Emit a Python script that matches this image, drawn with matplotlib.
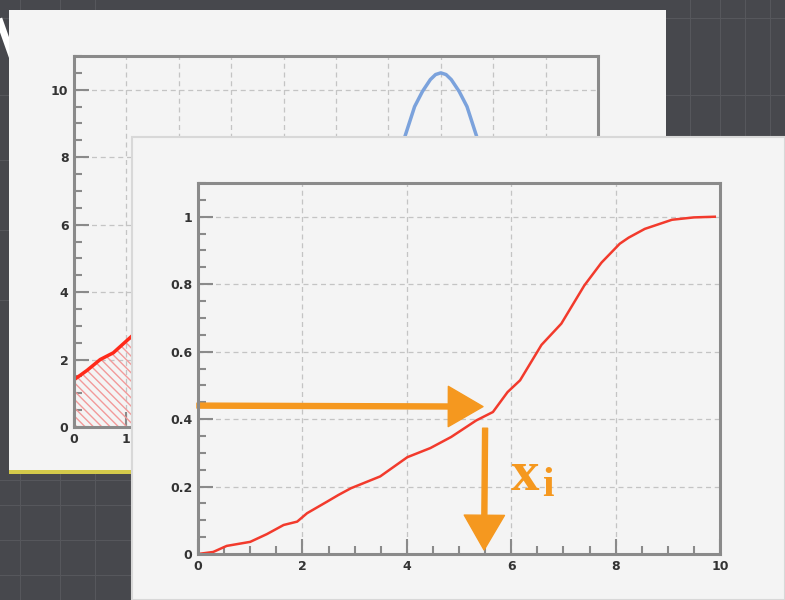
import matplotlib
matplotlib.use("Agg")
import matplotlib.pyplot as plt
from matplotlib.patches import Rectangle, FancyArrowPatch, ArrowStyle
from matplotlib.lines import Line2D
from matplotlib.ticker import MultipleLocator

# back chart: pdf with hatched part and a peak
pdf_x = [0, 0.25, 0.5, 0.75, 1.0, 1.25, 1.5]
pdf_y = [1.4, 1.68, 2.0, 2.2, 2.55, 2.9, 3.2]
peak_x = [5.5, 6.0, 6.25, 6.5, 6.65, 6.8, 6.9, 7.0, 7.1, 7.2, 7.35, 7.5, 7.75, 8.0, 8.5]
peak_y = [4.1, 6.9, 8.3, 9.5, 9.95, 10.3, 10.45, 10.5, 10.45, 10.3, 9.95, 9.5, 8.3, 6.9, 4.1]

# front chart: cumulative distribution
cdf_x = [0, 0.29, 0.55, 1.0, 1.32, 1.64, 1.9, 2.09, 2.47, 2.69, 2.93, 3.49, 4.01,
         4.45, 4.85, 5.33, 5.65, 5.93, 6.17, 6.58, 6.96, 7.4, 7.73, 8.08, 8.25,
         8.56, 9.08, 9.5, 9.9]
cdf_y = [0, 0.006, 0.024, 0.036, 0.059, 0.086, 0.096, 0.121, 0.155, 0.175, 0.195,
         0.23, 0.287, 0.314, 0.347, 0.396, 0.421, 0.48, 0.515, 0.62, 0.683, 0.796,
         0.864, 0.92, 0.938, 0.964, 0.991, 0.998, 1.0]

back_xticks = list(range(0, 11))
back_yticks = [0, 2, 4, 6, 8, 10]
front_xticks = [0, 2, 4, 6, 8, 10]
front_xlabels = ["0", "2", "4", "6", "8", "10"]
front_yticks = [0, 0.2, 0.4, 0.6, 0.8, 1.0]
front_ylabels = ["0", "0.2", "0.4", "0.6", "0.8", "1"]

# random number u read on the y axis, mapped to x_i
u_value = 0.44
x_i = 5.48

W, H = 785, 600
BG = "#47484d"
PANEL = "#f4f4f4"
ORANGE = "#f5981f"
GRIDC = "#c4c4c4"
FRAME = "#8a8a8a"


def rect(l, t, r, b):
    return [l / W, 1 - b / H, (r - l) / W, (b - t) / H]


def style(ax):
    ax.set_facecolor(PANEL)
    for s in ax.spines.values():
        s.set_color(FRAME)
        s.set_linewidth(2.2)
    ax.tick_params(which="both", direction="in", color=FRAME, width=1.5,
                   top=False, right=False, labelsize=9, labelcolor="#333333", pad=4)
    ax.tick_params(which="major", length=11)
    ax.tick_params(which="minor", length=6)
    for lab in ax.get_xticklabels() + ax.get_yticklabels():
        lab.set_fontweight("bold")
    ax.grid(True, which="major", linestyle=(0, (4, 3)), color=GRIDC, lw=0.9)
    ax.set_axisbelow(True)


plt.rcParams["hatch.linewidth"] = 1.0
fig = plt.figure(figsize=(W / 100, H / 100), dpi=100)
fig.patch.set_facecolor(BG)

# faint linen texture of the slide background
for yy in [18, 95, 160, 230, 300, 480, 505, 540, 575]:
    fig.add_artist(Line2D([0, 1], [1 - yy / H] * 2, transform=fig.transFigure,
                          color="#56575c", lw=0.8, zorder=-6))
for xx in [20, 60, 95, 690, 720, 745, 770]:
    fig.add_artist(Line2D([xx / W] * 2, [0, 1], transform=fig.transFigure,
                          color="#56575c", lw=0.8, zorder=-6))

# white stroke of a background letter, top-left
fig.add_artist(Line2D([0, 12 / W], [1 - 22 / H, 1 - 56 / H], transform=fig.transFigure,
                      color="white", lw=5, zorder=-5))

# back panel
l, t, r, b = 9, 10, 666, 471
fig.add_artist(Rectangle((l / W, 1 - b / H), (r - l) / W, (b - t) / H,
                         transform=fig.transFigure, facecolor=PANEL, edgecolor="none", zorder=-4))
fig.add_artist(Rectangle((l / W, 1 - 474 / H), (r - l) / W, 4 / H,
                         transform=fig.transFigure, facecolor="#d3c94a", edgecolor="none", zorder=-4))

ax1 = fig.add_axes(rect(74, 56, 598, 427), zorder=-3)
ax1.set_xlim(0, 10)
ax1.set_ylim(0, 11)
ax1.set_xticks(back_xticks)
ax1.set_yticks(back_yticks)
ax1.yaxis.set_minor_locator(MultipleLocator(0.5))
style(ax1)
ax1.fill_between(pdf_x, 0, pdf_y, facecolor="none", edgecolor="#f29a9a",
                 hatch="\\\\\\\\", linewidth=0)
ax1.plot(pdf_x, pdf_y, color="#ff2a1a", lw=2.5)
ax1.plot(peak_x, peak_y, color="#7ba2dc", lw=2.5)

# front panel
l, t, r, b = 132, 137, 785, 600
fig.add_artist(Rectangle((l / W, 1 - b / H), (r - l) / W, (b - t) / H,
                         transform=fig.transFigure, facecolor=PANEL, edgecolor="#d8d8d8",
                         lw=1.5, zorder=-2))

ax2 = fig.add_axes(rect(198, 183, 720, 554), zorder=-1)
ax2.set_xlim(0, 10)
ax2.set_ylim(0, 1.1)
ax2.set_xticks(front_xticks, front_xlabels)
ax2.set_yticks(front_yticks, front_ylabels)
ax2.xaxis.set_minor_locator(MultipleLocator(0.5))
ax2.yaxis.set_minor_locator(MultipleLocator(0.05))
style(ax2)
ax2.plot(cdf_x, cdf_y, color="#f23a2c", lw=1.8)

# arrows: u on the y axis -> curve -> x_i
arrow_style = ArrowStyle.Simple(head_length=25, head_width=29, tail_width=3.6)
h_arrow = FancyArrowPatch((-0.02, u_value), (x_i - 0.02, u_value - 0.003), arrowstyle=arrow_style,
                          mutation_scale=1, color=ORANGE, shrinkA=0, shrinkB=0, clip_on=False)
v_arrow = FancyArrowPatch((x_i + 0.02, 0.373), (x_i, 0.012), arrowstyle=arrow_style,
                          mutation_scale=1, color=ORANGE, shrinkA=0, shrinkB=0, clip_on=False)
ax2.add_patch(h_arrow)
ax2.add_patch(v_arrow)

ax2.text(6.0, 0.19, "x", color=ORANGE, fontsize=41, fontweight="bold",
         family="Liberation Serif", va="baseline", ha="left")
ax2.text(6.6, 0.172, "i", color=ORANGE, fontsize=30, fontweight="bold",
         family="Liberation Serif", va="baseline", ha="left")

fig.savefig("out.png", dpi=100, facecolor=BG)
